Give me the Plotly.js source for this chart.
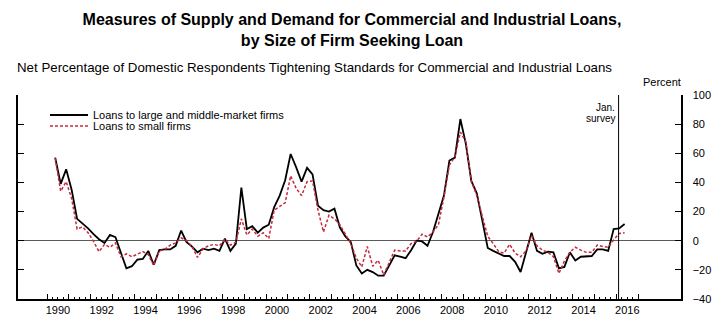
<!DOCTYPE html>
<html>
<head>
<meta charset="utf-8">
<script src="https://cdn.plot.ly/plotly-3.0.1.min.js"></script>
<style>
  html, body { margin: 0; padding: 0; background: #fff; }
  #chart { width: 722px; height: 334px; }
</style>
</head>
<body>
<div id="chart"></div>
<script>
// ---- Data (quarterly surveys, 1990 Q2 through 2016 Q2) ----
const firstYear = 1990;
const firstQuarter = 2;

const largeMiddleFirms = [
  57, 39, 49, 35, 15, 12, 8.5, 4.5, 1, -1.5,
  4, 2.5, -8, -19, -17.5, -13, -12.5, -7, -16.5, -6.5,
  -6, -6, -3.5, 7, -1, -4, -8, -5.5, -6.5, -5.5,
  -7, 1.5, -7, -2, 36.5, 8, 10, 5.5, 9, 11,
  23, 31, 41.5, 59.5, 50.5, 40.5, 50, 45.5, 24, 21,
  20, 22, 9, 3, -1, -17, -22.5, -20, -21.5, -24,
  -24, -16.5, -10, -11, -12, -6.5, 0, -0.5, -3.5, 6,
  18, 31, 55, 57, 83.5, 66.5, 41, 32.5, 14, -5,
  -7, -9, -10.5, -10.5, -14.5, -21.5, -8, 5.5, -7, -9,
  -7.5, -8, -19, -18, -8, -13.5, -11, -10.5, -10.5, -6,
  -6, -7, 8, 8.5, 11.5
];

const smallFirms = [
  56.5, 34, 40.5, 29, 8, 9.5, 5.5, -0.5, -7.5, -2.5,
  -4.5, -1.5, -11, -9, -11, -9.5, -7.5, -9.5, -17, -7,
  -6, -3, -1.5, 2, 0, -4, -11.5, -5.5, -3.5, -2.5,
  -3.5, 1, -3, -1, 15, 4, 8, 3, 5.5, 1.5,
  21, 23.5, 26, 44.5, 36, 31, 40.5, 41, 21, 6,
  17.5, 15, 11, 4.5, -2, -12, -18, -4, -17.5, -13.5,
  -23.5, -15, -6.5, -7, -7, -2, -0.5, 4.5, 2.5, 6,
  11, 30, 52, 57.5, 74.5, 68, 41, 31, 16, 3,
  -2, -7.5, -8.5, -2.5, -8.5, -11, -7, 3.5, -3.5, -6.5,
  -8, -11, -22.5, -14, -8, -4.5, -6.5, -8, -8, -3,
  -4, -4.5, 0.5, 5, 5.5
];

const seriesNames = ["Loans to large and middle-market firms", "Loans to small firms"];
const yearLabels = ["1990","1992","1994","1996","1998","2000","2002","2004","2006","2008","2010","2012","2014","2016"];
const tickYearStart = 1990, tickYearEnd = 2017;
const surveyDate = 2016.1;

// ---- derived positions ----
const dates = largeMiddleFirms.map((_, i) => firstYear + (firstQuarter - 1) * 0.25 + 0.125 + 0.25 * i);

const quarterTicks = [], quarterText = [];
for (let y = tickYearStart; y < tickYearEnd; y++) {
  [0.25, 0.5, 0.75].forEach(f => {
    quarterTicks.push(y + f);
    const lbl = (f === 0.5 && yearLabels.indexOf(String(y)) >= 0) ? String(y) : "";
    quarterText.push(lbl);
  });
}
const yearTicks = [];
for (let y = tickYearStart; y <= tickYearEnd; y++) yearTicks.push(y);

// plot-area geometry in pixels
const L = 18, R = 41, T = 95, B = 35, Wd = 722, Ht = 334;
const PW = Wd - L - R, PH = Ht - T - B;
const pxPerYear = 21.9, x1990 = 47.0;
const xRange = [1990 - (x1990 - L) / pxPerYear, 1990 - (x1990 - L) / pxPerYear + PW / pxPerYear];
const xp = px => (px - L) / PW;
const yp = py => (T + PH - py) / PH;

const FONT = "Liberation Sans, Arial, Helvetica, sans-serif";

const traces = [
  {
    x: dates, y: largeMiddleFirms, type: "scatter", mode: "lines",
    name: seriesNames[0],
    line: { color: "#000000", width: 1.8 },
    legend: "legend", hoverinfo: "skip"
  },
  {
    x: dates, y: smallFirms, type: "scatter", mode: "lines",
    name: seriesNames[1],
    line: { color: "#c8283c", width: 1.5, dash: "3px,2px" },
    legend: "legend2", hoverinfo: "skip"
  },
  {
    x: [dates[0]], y: [null], yaxis: "y2", type: "scatter", mode: "lines",
    showlegend: false, hoverinfo: "skip"
  }
];

const layout = {
  width: Wd, height: Ht,
  margin: { l: L, r: R, t: T, b: B, pad: 0 },
  paper_bgcolor: "#ffffff", plot_bgcolor: "#ffffff",
  font: { family: FONT, size: 11, color: "#000" },
  title: {
    text: "<b>Measures of Supply and Demand for Commercial and Industrial Loans,<br>by Size of Firm Seeking Loan</b>",
    font: { family: FONT, size: 16, color: "#000" },
    x: xp(352), xref: "paper", xanchor: "center",
    y: 1 - 25 / Ht, yref: "container", yanchor: "middle"
  },
  xaxis: {
    range: xRange, showgrid: false, zeroline: false,
    showline: true, linecolor: "#000", linewidth: 2, mirror: false,
    tickmode: "array", tickvals: quarterTicks, ticktext: quarterText,
    ticks: "inside", ticklen: 2.5, tickwidth: 1, tickcolor: "#000",
    tickfont: { family: FONT, size: 11, color: "#000" },
    minor: { tickmode: "array", tickvals: yearTicks, ticks: "inside", ticklen: 5, tickwidth: 1, tickcolor: "#000" },
    fixedrange: true
  },
  yaxis: {
    range: [-40, 100], dtick: 20, tick0: 0,
    showgrid: false, zeroline: true, zerolinecolor: "#5a5a5a", zerolinewidth: 1.5,
    showline: true, linecolor: "#000", linewidth: 2,
    ticks: "inside", ticklen: 6, tickwidth: 1.2, tickcolor: "#000",
    showticklabels: false, fixedrange: true
  },
  yaxis2: {
    range: [-40, 100], dtick: 20, tick0: 0, overlaying: "y", side: "right", anchor: "x",
    showgrid: false, zeroline: false,
    showline: true, linecolor: "#000", linewidth: 1.5,
    ticks: "inside", ticklen: 6, tickwidth: 1.2, tickcolor: "#000",
    tickfont: { family: FONT, size: 11, color: "#000" },
    ticklabelstandoff: 8,
    fixedrange: true
  },
  legend: {
    x: xp(45), y: yp(115), xanchor: "left", yanchor: "middle",
    bgcolor: "rgba(0,0,0,0)", borderwidth: 0, itemwidth: 38,
    font: { family: FONT, size: 11, color: "#000" }
  },
  legend2: {
    x: xp(45), y: yp(126), xanchor: "left", yanchor: "middle",
    bgcolor: "rgba(0,0,0,0)", borderwidth: 0, itemwidth: 38,
    font: { family: FONT, size: 11, color: "#000" }
  },
  shapes: [
    { type: "line", xref: "x", yref: "paper", x0: surveyDate, x1: surveyDate, y0: 0, y1: 1,
      line: { color: "#000", width: 1 } }
  ],
  annotations: [
    { text: "Net Percentage of Domestic Respondents Tightening Standards for Commercial and Industrial Loans",
      xref: "paper", yref: "paper", x: xp(15), y: yp(67), xanchor: "left", yanchor: "middle",
      showarrow: false, font: { family: FONT, size: 13.3, color: "#000" } },
    { text: "Percent", xref: "paper", yref: "paper", x: xp(683), y: yp(82),
      xanchor: "right", yanchor: "middle", showarrow: false,
      font: { family: FONT, size: 11, color: "#000" } },
    { text: "Jan.", xref: "x", yref: "paper", x: surveyDate, xshift: -2, y: yp(107),
      xanchor: "right", yanchor: "middle", align: "right", showarrow: false,
      font: { family: FONT, size: 10, color: "#000" } },
    { text: "survey", xref: "x", yref: "paper", x: surveyDate, xshift: -2, y: yp(118.5),
      xanchor: "right", yanchor: "middle", align: "right", showarrow: false,
      font: { family: FONT, size: 10, color: "#000" } }
  ],
  showlegend: true
};

Plotly.newPlot("chart", traces, layout, { staticPlot: true, displayModeBar: false });
</script>
</body>
</html>
